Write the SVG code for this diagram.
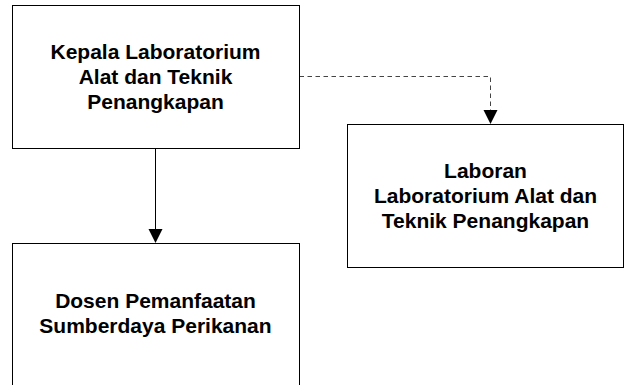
<svg xmlns="http://www.w3.org/2000/svg" width="624" height="385" viewBox="0 0 624 385">
<style>
.box{fill:#fff;stroke:#000;stroke-width:1}
.t{font-family:"Liberation Sans",Arial,sans-serif;font-weight:bold;font-size:21px;fill:#000;text-anchor:middle}
.ln{fill:none;stroke:#000;stroke-width:1}
.dash{fill:none;stroke:#444;stroke-width:1;stroke-dasharray:4.5 3.5}
</style>
<defs>
<marker id="ah" viewBox="0 0 14 14" markerWidth="14" markerHeight="14" refX="7" refY="14" orient="auto-start-reverse" markerUnits="userSpaceOnUse">
<path d="M0,0 L14,0 L7,14 Z" fill="#000"/>
</marker>
</defs>
<rect width="624" height="385" fill="#fff"/>
<g id="connectors">
<line class="ln" x1="155.5" y1="148.5" x2="155.5" y2="229"/>
<path d="M148.5,229 L162.5,229 L155.5,243 Z" fill="#000"/>
<polyline class="dash" points="299.5,76.5 490.5,76.5 490.5,110"/>
<path d="M483.5,110 L497.5,110 L490.5,124 Z" fill="#000"/>
</g>
<g id="kepala">
<rect class="box" x="12.5" y="5.5" width="287" height="143"/>
<text class="t" x="155.5" y="58.5">Kepala Laboratorium</text>
<text class="t" x="155.5" y="83.5">Alat dan Teknik</text>
<text class="t" x="155.5" y="108.5">Penangkapan</text>
</g>
<g id="laboran">
<rect class="box" x="347.5" y="124.5" width="276" height="143"/>
<text class="t" x="485.5" y="177.5">Laboran</text>
<text class="t" x="485.5" y="202.5">Laboratorium Alat dan</text>
<text class="t" x="485.5" y="227.5">Teknik Penangkapan</text>
</g>
<g id="dosen">
<rect class="box" x="12.5" y="243.5" width="287" height="143"/>
<text class="t" x="155.5" y="308">Dosen Pemanfaatan</text>
<text class="t" x="155.5" y="333">Sumberdaya Perikanan</text>
</g>
</svg>
